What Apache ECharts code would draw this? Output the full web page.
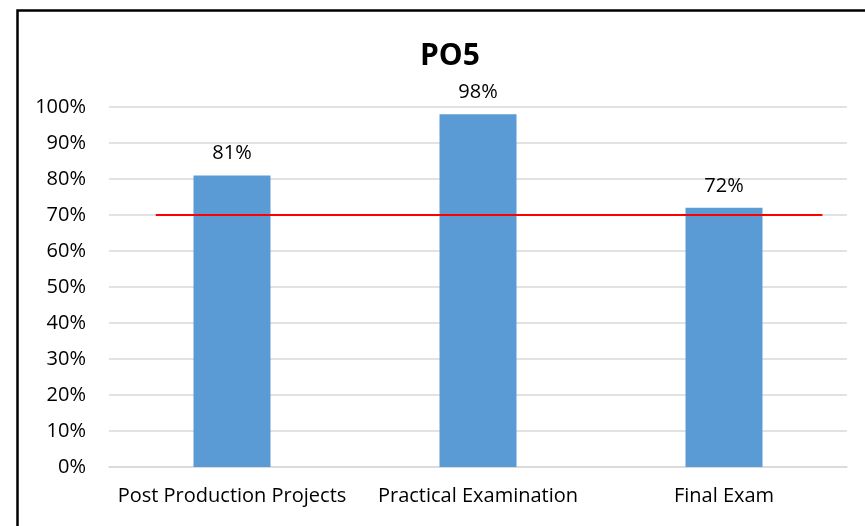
<!DOCTYPE html>
<html><head><meta charset="utf-8">
<script src="https://cdn.jsdelivr.net/npm/echarts@6/dist/echarts.min.js"></script>
<style>html,body{margin:0;padding:0;background:#fff}#c{width:865px;height:526px}</style>
</head><body><div id="c"></div>
<script>
const categories = ['Post Production Projects', 'Practical Examination', 'Final Exam'];
const values = [81, 98, 72];
const targetValue = 70;
const targetSpan = [0.19, 2.9]; // in category units along the x band
const yTicks = [0, 10, 20, 30, 40, 50, 60, 70, 80, 90, 100];

const chart = echarts.init(document.getElementById('c'));
const font = 'Open Sans, Noto Sans, sans-serif';
chart.setOption({
  animation: false,
  backgroundColor: '#fff',
  title: {
    text: 'PO5', left: 415, top: 36,
    textStyle: { fontFamily: font, fontSize: 30, fontWeight: 'bold', color: '#000' }
  },
  graphic: [{
    type: 'rect', left: 15, top: 8, shape: { width: 900, height: 600 },
    style: { fill: 'none', stroke: '#000', lineWidth: 2.5 }, silent: true
  }],
  grid: { left: 109, right: 18, top: 107, bottom: 59 },
  xAxis: [{
    type: 'category', data: categories,
    axisLine: { show: true, lineStyle: { color: '#D9D9D9', width: 1.5 } },
    axisTick: { show: false },
    axisLabel: { fontFamily: font, fontSize: 20, color: '#000', margin: 19, interval: 0 }
  }, {
    type: 'value', min: 0, max: 3, show: false
  }],
  yAxis: {
    type: 'value', min: yTicks[0], max: yTicks[yTicks.length - 1], interval: 10,
    axisLine: { show: false }, axisTick: { show: false },
    splitLine: { lineStyle: { color: '#D9D9D9', width: 1.5 } },
    axisLabel: { fontFamily: font, fontSize: 20, color: '#000', margin: 23, formatter: v => v + '%' }
  },
  series: [{
    type: 'bar', data: values, barWidth: 77, xAxisIndex: 0,
    itemStyle: { color: '#5B9BD5' },
    label: { show: true, position: 'top', distance: 12, fontFamily: font, fontSize: 20, color: '#000', formatter: p => p.value + '%' }
  }, {
    type: 'line', xAxisIndex: 1, symbol: 'none',
    data: targetSpan.map(x => [x, targetValue]),
    lineStyle: { color: '#FF0000', width: 2 }, z: 5
  }]
});
</script></body></html>
